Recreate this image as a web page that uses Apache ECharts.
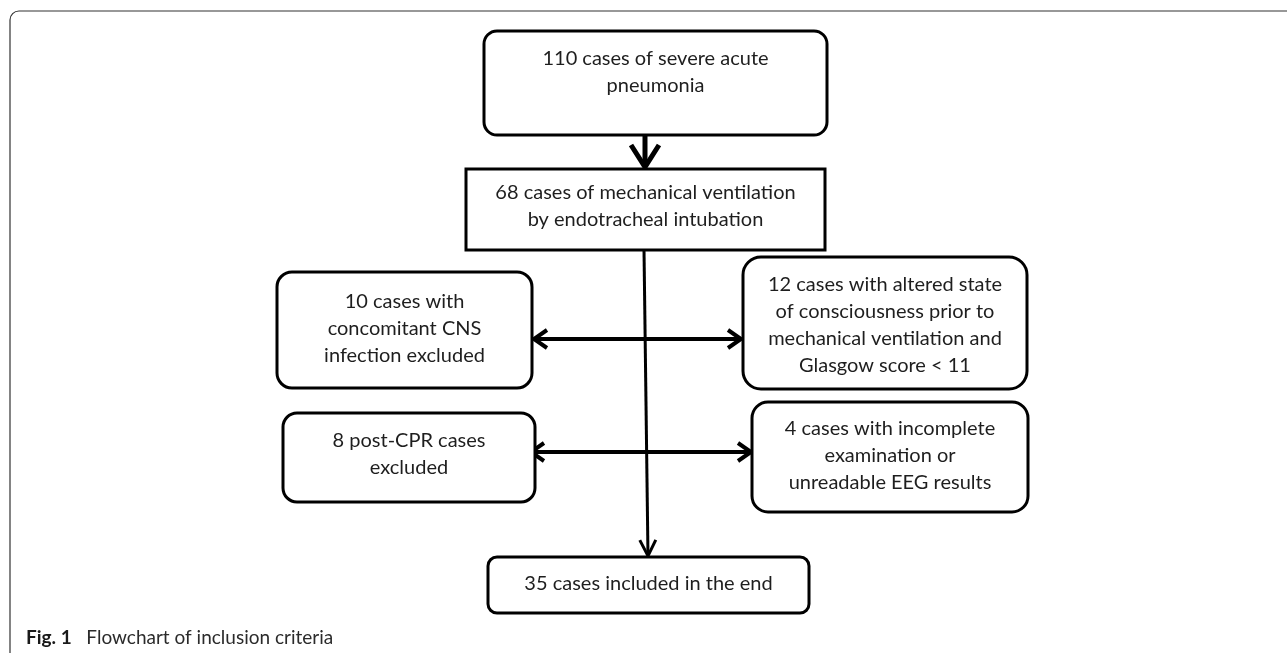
<!DOCTYPE html>
<html>
<head>
<meta charset="utf-8">
<title>Flowchart of inclusion criteria</title>
<script src="https://cdn.jsdelivr.net/npm/echarts@6.0.0/dist/echarts.min.js"></script>
<style>
  html, body { margin: 0; padding: 0; background: #fff; }
  #main { width: 1287px; height: 653px; }
</style>
</head>
<body>
<div id="main"></div>
<script>
// number of cases in each box (top -> bottom, left -> right)
var caseCounts = [110, 68, 10, 12, 8, 4, 35];

// text of each box, the count is put in front of the first line
var boxTexts = [
  ['cases of severe acute', 'pneumonia'],
  ['cases of mechanical ventilation', 'by endotracheal intubation'],
  ['cases with', 'concomitant CNS', 'infection excluded'],
  ['cases with altered state', 'of consciousness prior to', 'mechanical ventilation and', 'Glasgow score < 11'],
  ['post-CPR cases', 'excluded'],
  ['cases with incomplete', 'examination or', 'unreadable EEG results'],
  ['cases included in the end']
];

var figLabel = 'Fig. 1';
var figCaption = 'Flowchart of inclusion criteria';

// box geometry: x, y, width, height, corner radius, y of first text line
var boxLayout = [
  [484, 31, 343, 104, 13, 59],
  [466, 169, 359, 81, 0, 193],
  [277, 272, 255, 116, 15, 302],
  [743, 257, 284, 132, 18, 285],
  [283, 413, 252, 89, 14, 441],
  [752, 402, 276, 110, 16, 429],
  [488, 557, 321, 56, 9, 584]
];

// arrows: x1, y1, x2 (tip), y2 (tip), head length, head half width, line width
var arrowLayout = [
  [645, 135, 645, 167, 22, 14, 5],
  [644, 250, 648, 556, 16, 8, 3],
  [644, 339, 534, 339, 13, 9, 4],
  [644, 339, 741, 339, 13, 9, 4],
  [644, 452, 531, 452, 13, 9, 4],
  [644, 452, 751, 452, 13, 9, 4]
];

var lineGap = 26.8;
var textFont = '20px Lato';

function boxElements(i) {
  var b = boxLayout[i];
  var lines = boxTexts[i].slice();
  lines[0] = caseCounts[i] + ' ' + lines[0];
  var els = [{
    type: 'rect',
    shape: { x: b[0], y: b[1], width: b[2], height: b[3], r: b[4] },
    style: { fill: '#fff', stroke: '#000', lineWidth: 3 }
  }];
  for (var k = 0; k < lines.length; k++) {
    els.push({
      type: 'text',
      style: {
        text: lines[k],
        x: b[0] + b[2] / 2,
        y: b[5] + k * lineGap,
        font: textFont,
        fill: '#1e1e1e',
        align: 'center',
        verticalAlign: 'middle',
        textAlign: 'center',
        textVerticalAlign: 'middle'
      }
    });
  }
  return els;
}

function arrowElements(a) {
  var len = Math.sqrt((a[2] - a[0]) * (a[2] - a[0]) + (a[3] - a[1]) * (a[3] - a[1]));
  var dx = (a[2] - a[0]) / len;
  var dy = (a[3] - a[1]) / len;
  var bx = a[2] - dx * a[4];
  var by = a[3] - dy * a[4];
  return [{
    type: 'line',
    shape: { x1: a[0], y1: a[1], x2: a[2] - dx * 1.5, y2: a[3] - dy * 1.5 },
    style: { stroke: '#000', lineWidth: a[6] }
  }, {
    type: 'polyline',
    shape: {
      points: [
        [bx - dy * a[5], by + dx * a[5]],
        [a[2], a[3]],
        [bx + dy * a[5], by - dx * a[5]]
      ]
    },
    style: { fill: null, stroke: '#000', lineWidth: a[6], lineJoin: 'miter' }
  }];
}

var chart = echarts.init(document.getElementById('main'), null, { renderer: 'canvas' });

var elements = [];
// outer frame, only top and left edges are on the page
elements.push({
  type: 'rect',
  shape: { x: 10, y: 11, width: 1400, height: 800, r: 9 },
  style: { fill: null, stroke: '#333', lineWidth: 1.2 }
});
for (var j = 0; j < arrowLayout.length; j++) {
  elements = elements.concat(arrowElements(arrowLayout[j]));
}
for (var i = 0; i < boxLayout.length; i++) {
  elements = elements.concat(boxElements(i));
}
// caption
elements.push({
  type: 'text',
  style: {
    text: '{b|' + figLabel + '}   ' + figCaption,
    x: 26,
    y: 638,
    font: '19px Lato',
    fill: '#2b2b2b',
    verticalAlign: 'middle',
    textVerticalAlign: 'middle',
    rich: {
      b: { fontWeight: 'bold', fontSize: 19, fontFamily: 'Lato', fill: '#1a1a1a' }
    }
  }
});

var option = {
  animation: false,
  graphic: { elements: elements }
};
chart.setOption(option);
</script>
</body>
</html>
